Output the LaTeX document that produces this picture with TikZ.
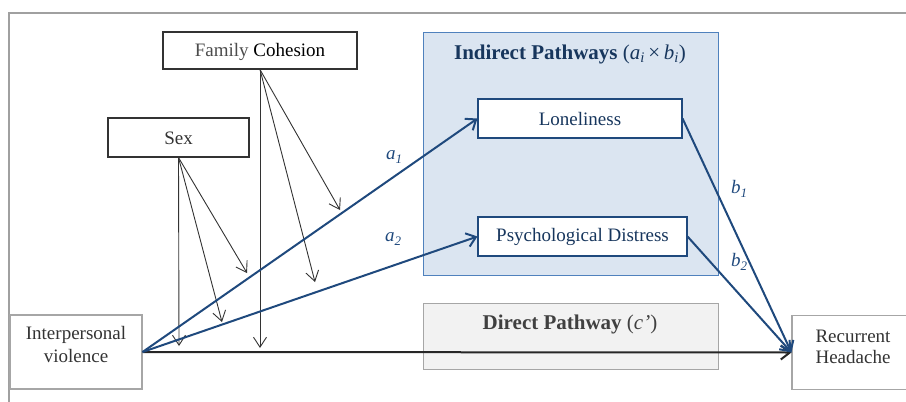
\documentclass[tikz,border=0pt]{standalone}
\usepackage{fontspec}
\setmainfont{Liberation Serif}
\usetikzlibrary{arrows.meta}
\definecolor{navy}{RGB}{31,73,125}
\definecolor{navytext}{RGB}{23,54,93}
\definecolor{indfill}{RGB}{219,229,241}
\definecolor{indborder}{RGB}{79,129,189}
\definecolor{dirfill}{RGB}{242,242,242}
\definecolor{dirborder}{RGB}{166,166,166}
\definecolor{frame}{RGB}{160,160,160}
\definecolor{txt}{RGB}{51,51,51}
\newcommand{\lowsub}[1]{\raisebox{-4pt}{\fontsize{13}{14}\selectfont\itshape #1}}
\tikzset{
  covbox/.style={draw=black!80, line width=1.1pt, fill=white, minimum width=#1, inner sep=0pt, minimum height=38pt, text=txt},
  medbox/.style={draw=navy, line width=1.1pt, fill=white, inner sep=0pt, minimum height=39pt, minimum width=#1, text=navytext},
  endbox/.style={draw=dirborder, line width=1.1pt, fill=white, inner sep=0pt, minimum width=#1, minimum height=74pt, text=txt},
  thinarr/.style={draw=black!80, line width=0.9pt, -{Straight Barb[length=10pt,width=13pt,line width=0.9pt]}},
  bluearr/.style={draw=navy, line width=2pt, -{Straight Barb[length=9pt,width=14pt,line width=2pt]}},
  blackarr/.style={draw=black!85, line width=2pt, -{Straight Barb[length=9pt,width=14pt,line width=2pt]}},
  lbl/.style={text=navy, font=\fontsize{19}{20}\selectfont\itshape},
  txtline/.style={text=txt, inner sep=0pt},
}
\begin{document}
\begin{tikzpicture}[x=1pt,y=-1pt, font=\fontsize{19}{22}\selectfont]
\useasboundingbox (0,0) rectangle (906,402);
% outer frame
\draw[frame, line width=1.2pt] (9,402) -- (9,13) -- (906,13);
% pathway boxes
\node[draw=indborder, fill=indfill, line width=1pt, minimum width=295pt, minimum height=243pt, inner sep=0pt] (ind) at (570.5,153.5) {};
\node[text=navytext, font=\fontsize{21}{24}\selectfont] (indt) at (570,54) {\textbf{Indirect Pathways} (\textit{a\textsubscript{i}}\,×\,\textit{b\textsubscript{i}})};
\node[draw=dirborder, fill=dirfill, line width=1pt, minimum width=295pt, minimum height=66pt, inner sep=0pt] (dir) at (570.5,336) {};
\node[text=black!75, font=\fontsize{21}{24}\selectfont] (dirt) at (570,324) {\textbf{Direct Pathway} (\textit{c’})};
% boxes
\node[covbox=194pt, minimum height=37pt] (fc) at (260,50.5) {};
\node[text=txt] (fct) at (260,52) {{\color{black!70}Family} {\color{black}Cohesion}};
\node[covbox=141pt, minimum height=39pt] (sex) at (178.5,137.5) {};
\node[text=txt] (sext) at (178.5,138.5) {Sex};
\node[medbox=204pt] (lon) at (580,118.5) {Loneliness};
\node[medbox=209pt] (pd) at (582.5,236.5) {Psychological Distress};
\node[endbox=132pt] (iv) at (76,352) {};
\node[txtline] (ivt1) at (76,335) {Interpersonal};
\node[txtline] (ivt2) at (76,356) {violence};
\node[endbox=122pt] (rh) at (853,352.5) {};
\node[txtline] (rht1) at (853,336) {Recurrent};
\node[txtline] (rht2) at (853,357) {Headache};
% covariate arrow ends
\coordinate (s1) at (179,346);
\coordinate (s2) at (222,322);
\coordinate (s3) at (247,273);
\coordinate (f1) at (260,348);
\coordinate (f2) at (315,282);
\coordinate (f3) at (340,210);
\draw[thinarr] (sex.south) -- (s1);
\draw[thinarr] (sex.south) -- (s2);
\draw[thinarr] (sex.south) -- (s3);
\draw[thinarr] (fc.south) -- (f1);
\draw[thinarr] (fc.south) -- (f2);
\draw[thinarr] (fc.south) -- (f3);
% main paths
\draw[blackarr] (iv.east) -- (rh.west);
\draw[bluearr] (iv.east) -- (lon.west);
\draw[bluearr] (iv.east) -- (pd.west);
\draw[bluearr] (lon.east) -- (rh.west);
\draw[bluearr] (pd.east) -- (rh.west);
% labels
\node[lbl] (la1) at (394,157) {a\lowsub{1}};
\node[lbl] (la2) at (393,239) {a\lowsub{2}};
\node[lbl] (lb1) at (739,189) {b\lowsub{1}};
\node[lbl] (lb2) at (739,262) {b\lowsub{2}};
\end{tikzpicture}
\end{document}
